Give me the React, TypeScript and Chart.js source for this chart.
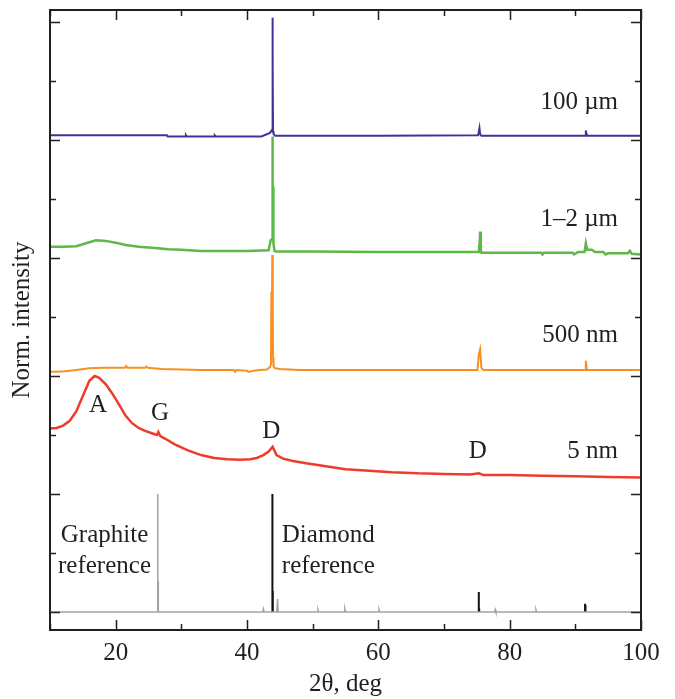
import React, { useEffect, useRef } from "react";
import { Chart, registerables } from "chart.js";

Chart.register(...registerables);

// ---- axis ticks ----
const xTickValues = [10, 20, 30, 40, 50, 60, 70, 80, 90, 100];
const xTickLabels = ["", "20", "", "40", "", "60", "", "80", "", "100"];
const yTickValues = [0, 1, 2, 3, 4, 5, 6, 7, 8, 9, 10];

// ---- 100 µm (blue) ----
const um100X = [10, 20, 27.8, 27.9, 30.6, 30.7, 30.8, 35.0, 35.1, 35.2, 42.2, 43.5, 43.8, 43.86, 43.88, 43.9, 43.93, 43.96, 44.05, 44.3, 60, 75.2, 75.4, 75.5, 75.7, 91.5, 91.6, 91.7, 91.85, 100];
const um100Y = [8.08, 8.08, 8.08, 8.06, 8.06, 8.08, 8.06, 8.06, 8.075, 8.06, 8.06, 8.12, 8.17, 8.15, 10.07, 8.5, 9.39, 8.15, 8.1, 8.07, 8.07, 8.08, 8.2, 8.1, 8.07, 8.07, 8.16, 8.1, 8.07, 8.07];

// ---- 1–2 µm (green) ----
const um12X = [10, 12, 14, 15.5, 17, 18.5, 20, 21.5, 23.5, 26, 28, 30, 33, 36, 40, 43.3, 43.6, 43.85, 43.88, 43.92, 43.96, 44.02, 44.2, 44.5, 50, 60, 70, 75.3, 75.45, 75.5, 75.6, 75.7, 80, 84.8, 85.0, 85.2, 89.6, 89.8, 90.1, 90.4, 91.4, 91.6, 91.8, 92.5, 93.0, 94.3, 94.6, 95.0, 98.0, 98.3, 98.6, 100];
const um12Y = [6.19, 6.19, 6.2, 6.25, 6.3, 6.29, 6.26, 6.22, 6.19, 6.17, 6.15, 6.14, 6.12, 6.12, 6.12, 6.13, 6.3, 6.32, 8.06, 6.8, 7.21, 6.25, 6.12, 6.11, 6.11, 6.1, 6.1, 6.1, 6.3, 6.45, 6.15, 6.09, 6.09, 6.09, 6.06, 6.09, 6.09, 6.06, 6.08, 6.1, 6.1, 6.25, 6.14, 6.14, 6.1, 6.1, 6.06, 6.08, 6.08, 6.12, 6.07, 6.06];

// ---- 500 nm (orange) ----
const nm500X = [10, 11, 12.3, 14, 16, 18, 20, 21.4, 21.6, 21.8, 23, 24.5, 24.7, 24.9, 27, 30, 33, 36, 38, 38.2, 38.4, 40, 40.2, 41, 42, 43, 43.5, 43.65, 43.72, 43.78, 43.85, 43.92, 43.97, 44.05, 44.3, 45, 48, 55, 60, 70, 75.1, 75.3, 75.5, 75.7, 76, 80, 90, 91.5, 91.6, 91.75, 100];
const nm500Y = [4.07, 4.07, 4.08, 4.1, 4.13, 4.14, 4.14, 4.14, 4.17, 4.14, 4.14, 4.14, 4.16, 4.14, 4.12, 4.11, 4.1, 4.1, 4.1, 4.07, 4.1, 4.09, 4.07, 4.09, 4.1, 4.11, 4.15, 4.2, 5.43, 4.6, 6.05, 5.12, 4.3, 4.16, 4.13, 4.12, 4.1, 4.1, 4.1, 4.1, 4.1, 4.36, 4.45, 4.14, 4.1, 4.1, 4.1, 4.1, 4.26, 4.1, 4.1];

// ---- 5 nm (red) ----
const nm5X = [10, 11, 12, 13, 14, 15, 16, 16.8, 17.5, 18.5, 19.5, 20.5, 21.5, 22.5, 23.5, 24.5, 25.5, 26.3, 26.5, 26.8, 27.5, 29, 31, 33, 35, 37, 39, 40.5, 41.5, 42.5, 43.3, 43.9, 44.5, 45.5, 47, 49, 52, 55, 58, 62, 66, 70, 74, 75.3, 76, 80, 85, 90, 95, 100];
const nm5Y = [3.11, 3.12, 3.16, 3.24, 3.4, 3.66, 3.92, 4.0, 3.97, 3.86, 3.7, 3.52, 3.33, 3.2, 3.12, 3.07, 3.03, 3.0, 3.05, 2.98, 2.94, 2.84, 2.74, 2.66, 2.61, 2.59, 2.58, 2.59, 2.61, 2.66, 2.72, 2.8, 2.66, 2.6, 2.56, 2.52, 2.47, 2.42, 2.4, 2.37, 2.35, 2.34, 2.33, 2.35, 2.32, 2.32, 2.31, 2.3, 2.29, 2.28];

// ---- Graphite reference (grey) ----
const refGraphiteX = [10, 26.38, 26.4, 26.42, 26.48, 26.5, 42.4, 42.5, 42.6, 44.55, 44.65, 44.75, 50.7, 50.8, 50.9, 54.8, 54.9, 55.0, 60.0, 60.1, 60.2, 77.7, 77.8, 77.9, 83.9, 84.0, 84.1, 100];
const refGraphiteY = [0, 0, 2.0, 0.51, 0.51, 0, 0, 0.05, 0, 0, 0.22, 0, 0, 0.04, 0, 0, 0.05, 0, 0, 0.04, 0, 0, 0.04, 0, 0, 0.04, 0, 0];

// ---- Diamond reference (black sticks) ----
const refDiamondX = [43.87, 43.87, 43.87, 43.93, 43.93, 43.93, 75.3, 75.3, 75.3, 75.36, 75.36, 75.36, 91.48, 91.48, 91.48, 91.55, 91.55];
const refDiamondY = [0, 2.0, null, 0, 0.36, null, 0, 0.34, null, 0, 0.06, null, 0, 0.14, null, 0, 0.12];

// ---- annotations (text + anchor in data units) ----
const annoText = ["100 µm", "1–2 µm", "500 nm", "5 nm", "A", "G", "D", "D"];
const annoX = [96.5, 96.5, 96.5, 96.5, 17.3, 26.75, 43.7, 75.15];
const annoY = [8.64, 6.65, 4.68, 2.72, 3.5, 3.36, 3.06, 2.72];
const annoAlign = ["right", "right", "right", "right", "center", "center", "center", "center"];
const refLabelLines = [["Graphite", "reference"], ["Diamond", "reference"]];
const refLabelX = [18.3, 45.3];
const refLabelAlign = ["center", "left"];
const refLabelY = [1.29, 0.77];

const FONT = "'Liberation Serif', 'Times New Roman', serif";
const INK = "#231f20";

const zip = (xs: number[], ys: (number | null)[]) => xs.map((x, i) => ({ x, y: ys[i] }));

const framePlugin = {
  id: "frameTicks",
  afterDatasetsDraw(chart: any) {
    const { ctx, chartArea: a, scales } = chart;
    const xs = scales.x;
    const ys = scales.y;
    ctx.save();
    ctx.strokeStyle = INK;
    ctx.lineWidth = 1.5;
    ctx.beginPath();
    xTickValues.forEach((v, i) => {
      const px = Math.round(xs.getPixelForValue(v)) + 0.5;
      const len = xTickLabels[i] !== "" ? 10 : 6;
      ctx.moveTo(px, a.bottom);
      ctx.lineTo(px, a.bottom - len);
      ctx.moveTo(px, a.top);
      ctx.lineTo(px, a.top + len);
    });
    yTickValues.forEach((v) => {
      const py = Math.round(ys.getPixelForValue(v)) + 0.5;
      const len = v % 2 === 0 ? 10 : 6;
      ctx.moveTo(a.left, py);
      ctx.lineTo(a.left + len, py);
      ctx.moveTo(a.right, py);
      ctx.lineTo(a.right - len, py);
    });
    ctx.stroke();
    ctx.lineWidth = 2;
    ctx.strokeRect(a.left, a.top, a.right - a.left, a.bottom - a.top);

    ctx.fillStyle = INK;
    ctx.font = `25px ${FONT}`;
    ctx.textBaseline = "middle";
    annoText.forEach((t, i) => {
      ctx.textAlign = annoAlign[i];
      ctx.fillText(t, xs.getPixelForValue(annoX[i]), ys.getPixelForValue(annoY[i]));
    });
    refLabelLines.forEach((lines, i) => {
      ctx.textAlign = refLabelAlign[i];
      lines.forEach((t, j) => {
        ctx.fillText(t, xs.getPixelForValue(refLabelX[i]), ys.getPixelForValue(refLabelY[j]));
      });
    });
    ctx.restore();
  },
};

export default function App() {
  const ref = useRef<HTMLCanvasElement | null>(null);
  useEffect(() => {
    document.body.style.margin = "0";
    const canvas = ref.current;
    if (!canvas) return;
    const line = (label: string, xs: number[], ys: (number | null)[], color: string, w: number) => ({
      label,
      data: zip(xs, ys),
      borderColor: color,
      backgroundColor: color,
      borderWidth: w,
      pointRadius: 0,
      tension: 0,
      spanGaps: false,
      fill: false,
    });
    const chart = new Chart(canvas, {
      type: "line",
      data: {
        datasets: [
          line("Graphite reference", refGraphiteX, refGraphiteY, "#a3a3a3", 1.5),
          line("Diamond reference", refDiamondX, refDiamondY, "#111111", 2),
          line("5 nm", nm5X, nm5Y, "#ee3b2b", 2.5),
          line("500 nm", nm500X, nm500Y, "#f7901e", 2),
          line("1–2 µm", um12X, um12Y, "#5cb847", 2.5),
          line("100 µm", um100X, um100Y, "#3c3599", 2),
        ],
      },
      options: {
        animation: false,
        responsive: false,
        maintainAspectRatio: false,
        layout: { padding: { left: 0, right: 34, top: 10, bottom: 0 } },
        plugins: { legend: { display: false }, tooltip: { enabled: false } },
        scales: {
          x: {
            type: "linear",
            min: 10,
            max: 100,
            afterFit: (s: any) => {
              s.height = 69;
            },
            afterBuildTicks: (s: any) => {
              s.ticks = xTickValues.map((v) => ({ value: v }));
            },
            grid: { display: false },
            border: { display: false },
            ticks: {
              autoSkip: false,
              maxRotation: 0,
              padding: 0,
              color: INK,
              font: { family: FONT, size: 25 },
              callback: (v: any) => {
                const i = xTickValues.indexOf(Number(v));
                return i >= 0 ? xTickLabels[i] : "";
              },
            },
            title: {
              display: true,
              text: "2θ, deg",
              color: INK,
              font: { family: FONT, size: 25 },
              padding: { top: 0, bottom: 0 },
            },
          },
          y: {
            type: "linear",
            min: -0.305,
            max: 10.203,
            afterFit: (s: any) => {
              s.width = 50;
            },
            grid: { display: false },
            border: { display: false },
            ticks: { display: false },
            title: {
              display: true,
              text: "Norm. intensity",
              color: INK,
              font: { family: FONT, size: 25 },
              padding: { top: 7, bottom: 0 },
            },
          },
        },
      },
      plugins: [framePlugin],
    });
    return () => chart.destroy();
  }, []);
  return (
    <div style={{ position: "fixed", left: 0, top: 0, width: 675, height: 699, background: "#fff" }}>
      <canvas ref={ref} width={675} height={699} style={{ display: "block" }} />
    </div>
  );
}
